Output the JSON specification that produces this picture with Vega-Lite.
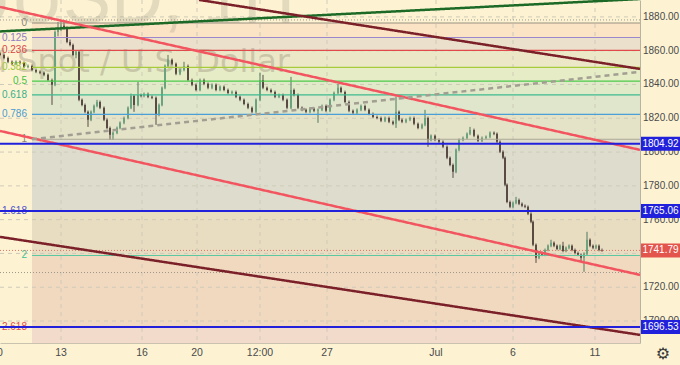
{
"$schema": "https://vega.github.io/schema/vega-lite/v6.json",
"width": 640, "height": 343,
"autosize": {"type": "none"},
"padding": {"left": 0, "top": 0, "right": 40, "bottom": 22},
"background": "#fdf3d3",
"config": {"view": {"stroke": null}, "text": {"font": "Liberation Sans"}},
"datasets": {
"candles": [
{"t":0,"o":1858.5,"h":1859.5,"l":1856.8,"c":1857.5},
{"t":4,"o":1857.5,"h":1858.3,"l":1854.9,"c":1855.7},
{"t":8,"o":1855.7,"h":1856.5,"l":1852.6,"c":1853.4},
{"t":12,"o":1853.4,"h":1854.2,"l":1851.4,"c":1852.2},
{"t":16,"o":1852.2,"h":1854.2,"l":1851.4,"c":1853.4},
{"t":20,"o":1853.4,"h":1854.2,"l":1852.0,"c":1852.8},
{"t":24,"o":1852.8,"h":1853.6,"l":1849.6,"c":1850.4},
{"t":28,"o":1850.4,"h":1851.8,"l":1849.6,"c":1851.0},
{"t":32,"o":1851.0,"h":1851.8,"l":1847.8,"c":1848.6},
{"t":36,"o":1848.6,"h":1849.4,"l":1846.7,"c":1847.5},
{"t":40,"o":1847.5,"h":1848.3,"l":1846.1,"c":1846.9},
{"t":44,"o":1846.9,"h":1847.7,"l":1844.9,"c":1845.7},
{"t":48,"o":1845.7,"h":1846.5,"l":1841.9,"c":1842.7},
{"t":52,"o":1842.7,"h":1843.5,"l":1827.9,"c":1839.8},
{"t":55,"o":1839.8,"h":1872.0,"l":1839.0,"c":1871.1},
{"t":58,"o":1871.1,"h":1877.0,"l":1868.5,"c":1872.3},
{"t":61,"o":1872.3,"h":1878.2,"l":1871.5,"c":1874.7},
{"t":64,"o":1874.7,"h":1878.2,"l":1872.7,"c":1873.5},
{"t":67,"o":1873.5,"h":1874.3,"l":1864.4,"c":1865.2},
{"t":70,"o":1865.2,"h":1866.6,"l":1862.6,"c":1863.4},
{"t":73,"o":1863.4,"h":1864.2,"l":1856.7,"c":1857.5},
{"t":76,"o":1857.5,"h":1860.1,"l":1855.5,"c":1859.3},
{"t":79,"o":1859.3,"h":1860.1,"l":1830.1,"c":1830.9},
{"t":82,"o":1830.9,"h":1831.7,"l":1827.1,"c":1827.9},
{"t":85,"o":1827.9,"h":1828.7,"l":1823.0,"c":1823.8},
{"t":88,"o":1823.8,"h":1824.6,"l":1814.9,"c":1819.1},
{"t":91,"o":1819.1,"h":1824.6,"l":1818.3,"c":1823.8},
{"t":94,"o":1823.8,"h":1828.1,"l":1823.0,"c":1827.3},
{"t":97,"o":1827.3,"h":1830.9,"l":1826.5,"c":1829.7},
{"t":100,"o":1829.7,"h":1830.5,"l":1825.4,"c":1826.2},
{"t":104,"o":1826.2,"h":1827.0,"l":1818.3,"c":1819.1},
{"t":107,"o":1819.1,"h":1819.9,"l":1813.5,"c":1814.3},
{"t":110,"o":1814.3,"h":1815.1,"l":1807.2,"c":1810.2},
{"t":113,"o":1810.2,"h":1812.2,"l":1807.2,"c":1811.4},
{"t":117,"o":1811.4,"h":1815.1,"l":1810.6,"c":1814.3},
{"t":120,"o":1814.3,"h":1818.1,"l":1813.5,"c":1817.3},
{"t":124,"o":1817.3,"h":1821.0,"l":1816.5,"c":1820.2},
{"t":128,"o":1820.2,"h":1827.0,"l":1819.4,"c":1826.2},
{"t":131,"o":1826.2,"h":1834.6,"l":1825.4,"c":1833.2},
{"t":134,"o":1833.2,"h":1834.0,"l":1823.8,"c":1827.9},
{"t":138,"o":1827.9,"h":1841.5,"l":1827.1,"c":1833.8},
{"t":141,"o":1833.8,"h":1834.6,"l":1832.4,"c":1833.2},
{"t":144,"o":1833.2,"h":1835.2,"l":1832.4,"c":1834.4},
{"t":148,"o":1834.4,"h":1835.2,"l":1831.9,"c":1832.7},
{"t":152,"o":1832.7,"h":1833.5,"l":1831.3,"c":1832.1},
{"t":156,"o":1832.1,"h":1832.9,"l":1816.1,"c":1822.0},
{"t":159,"o":1822.0,"h":1828.7,"l":1821.2,"c":1827.9},
{"t":162,"o":1827.9,"h":1838.8,"l":1827.1,"c":1838.0},
{"t":165,"o":1838.0,"h":1851.8,"l":1837.2,"c":1851.0},
{"t":168,"o":1851.0,"h":1857.5,"l":1850.2,"c":1854.6},
{"t":172,"o":1854.6,"h":1855.4,"l":1851.4,"c":1852.2},
{"t":176,"o":1852.2,"h":1853.0,"l":1845.5,"c":1846.3},
{"t":180,"o":1846.3,"h":1849.4,"l":1845.5,"c":1848.6},
{"t":184,"o":1848.6,"h":1853.4,"l":1847.8,"c":1851.0},
{"t":188,"o":1851.0,"h":1851.8,"l":1841.9,"c":1842.7},
{"t":192,"o":1842.7,"h":1843.5,"l":1839.0,"c":1839.8},
{"t":196,"o":1839.8,"h":1840.6,"l":1836.0,"c":1836.8},
{"t":200,"o":1836.8,"h":1843.5,"l":1836.0,"c":1842.7},
{"t":204,"o":1842.7,"h":1843.5,"l":1839.6,"c":1840.4},
{"t":208,"o":1840.4,"h":1841.2,"l":1837.2,"c":1838.0},
{"t":212,"o":1838.0,"h":1840.6,"l":1837.2,"c":1839.8},
{"t":216,"o":1839.8,"h":1840.6,"l":1836.0,"c":1836.8},
{"t":220,"o":1836.8,"h":1839.4,"l":1836.0,"c":1838.6},
{"t":224,"o":1838.6,"h":1839.4,"l":1836.0,"c":1836.8},
{"t":228,"o":1836.8,"h":1837.6,"l":1834.2,"c":1835.0},
{"t":232,"o":1835.0,"h":1836.4,"l":1834.2,"c":1835.6},
{"t":236,"o":1835.6,"h":1836.4,"l":1831.9,"c":1832.7},
{"t":240,"o":1832.7,"h":1833.5,"l":1830.1,"c":1830.9},
{"t":244,"o":1830.9,"h":1831.7,"l":1827.7,"c":1828.5},
{"t":248,"o":1828.5,"h":1829.3,"l":1825.4,"c":1826.2},
{"t":252,"o":1826.2,"h":1827.0,"l":1823.0,"c":1823.8},
{"t":256,"o":1823.8,"h":1831.7,"l":1823.0,"c":1830.9},
{"t":260,"o":1830.9,"h":1846.9,"l":1830.1,"c":1842.7},
{"t":263,"o":1842.7,"h":1845.7,"l":1837.2,"c":1838.0},
{"t":267,"o":1838.0,"h":1838.8,"l":1836.0,"c":1836.8},
{"t":271,"o":1836.8,"h":1837.6,"l":1834.8,"c":1835.6},
{"t":275,"o":1835.6,"h":1836.4,"l":1831.9,"c":1832.7},
{"t":279,"o":1832.7,"h":1834.6,"l":1831.9,"c":1833.8},
{"t":283,"o":1833.8,"h":1834.6,"l":1830.1,"c":1830.9},
{"t":287,"o":1830.9,"h":1831.7,"l":1825.4,"c":1826.2},
{"t":291,"o":1826.2,"h":1844.5,"l":1825.4,"c":1836.8},
{"t":294,"o":1836.8,"h":1837.6,"l":1833.0,"c":1833.8},
{"t":298,"o":1833.8,"h":1834.6,"l":1825.4,"c":1826.2},
{"t":302,"o":1826.2,"h":1827.0,"l":1824.2,"c":1825.0},
{"t":306,"o":1825.0,"h":1825.8,"l":1823.0,"c":1823.8},
{"t":310,"o":1823.8,"h":1826.4,"l":1823.0,"c":1825.6},
{"t":314,"o":1825.6,"h":1826.4,"l":1823.6,"c":1824.4},
{"t":318,"o":1824.4,"h":1825.8,"l":1817.3,"c":1825.0},
{"t":322,"o":1825.0,"h":1828.1,"l":1824.2,"c":1827.3},
{"t":326,"o":1827.3,"h":1828.1,"l":1823.6,"c":1824.4},
{"t":330,"o":1824.4,"h":1831.7,"l":1823.6,"c":1830.9},
{"t":334,"o":1830.9,"h":1835.8,"l":1830.1,"c":1835.0},
{"t":338,"o":1835.0,"h":1840.4,"l":1834.2,"c":1838.0},
{"t":341,"o":1838.0,"h":1838.8,"l":1834.8,"c":1835.6},
{"t":345,"o":1835.6,"h":1836.4,"l":1828.9,"c":1829.7},
{"t":349,"o":1829.7,"h":1830.5,"l":1823.6,"c":1824.4},
{"t":353,"o":1824.4,"h":1825.2,"l":1822.4,"c":1823.2},
{"t":357,"o":1823.2,"h":1825.8,"l":1822.4,"c":1825.0},
{"t":361,"o":1825.0,"h":1828.1,"l":1824.2,"c":1827.3},
{"t":365,"o":1827.3,"h":1828.1,"l":1824.2,"c":1825.0},
{"t":369,"o":1825.0,"h":1825.8,"l":1821.8,"c":1822.6},
{"t":373,"o":1822.6,"h":1823.4,"l":1820.0,"c":1820.8},
{"t":377,"o":1820.8,"h":1821.6,"l":1819.4,"c":1820.2},
{"t":381,"o":1820.2,"h":1821.0,"l":1817.7,"c":1818.5},
{"t":385,"o":1818.5,"h":1821.0,"l":1817.7,"c":1820.2},
{"t":389,"o":1820.2,"h":1821.0,"l":1817.1,"c":1817.9},
{"t":393,"o":1817.9,"h":1818.7,"l":1815.9,"c":1816.7},
{"t":396,"o":1816.7,"h":1832.7,"l":1814.3,"c":1823.8},
{"t":399,"o":1823.8,"h":1824.6,"l":1818.3,"c":1819.1},
{"t":402,"o":1819.1,"h":1819.9,"l":1817.1,"c":1817.9},
{"t":406,"o":1817.9,"h":1819.9,"l":1817.1,"c":1819.1},
{"t":410,"o":1819.1,"h":1821.0,"l":1818.3,"c":1820.2},
{"t":414,"o":1820.2,"h":1821.0,"l":1815.9,"c":1816.7},
{"t":418,"o":1816.7,"h":1817.5,"l":1813.5,"c":1814.3},
{"t":422,"o":1814.3,"h":1816.9,"l":1813.5,"c":1816.1},
{"t":425,"o":1816.1,"h":1825.0,"l":1815.3,"c":1820.2},
{"t":428,"o":1820.2,"h":1821.0,"l":1803.1,"c":1807.2},
{"t":431,"o":1807.2,"h":1810.4,"l":1806.4,"c":1809.6},
{"t":435,"o":1809.6,"h":1810.4,"l":1806.4,"c":1807.2},
{"t":439,"o":1807.2,"h":1808.0,"l":1805.3,"c":1806.1},
{"t":443,"o":1806.1,"h":1806.9,"l":1802.3,"c":1803.1},
{"t":447,"o":1803.1,"h":1803.9,"l":1795.8,"c":1796.6},
{"t":450,"o":1796.6,"h":1797.4,"l":1791.6,"c":1792.4},
{"t":453,"o":1792.4,"h":1793.2,"l":1784.7,"c":1788.3},
{"t":456,"o":1788.3,"h":1802.1,"l":1787.5,"c":1801.3},
{"t":459,"o":1801.3,"h":1808.0,"l":1800.5,"c":1807.2},
{"t":463,"o":1807.2,"h":1809.2,"l":1806.4,"c":1808.4},
{"t":467,"o":1808.4,"h":1811.6,"l":1807.6,"c":1810.8},
{"t":470,"o":1810.8,"h":1814.9,"l":1810.0,"c":1813.1},
{"t":474,"o":1813.1,"h":1813.9,"l":1808.8,"c":1809.6},
{"t":478,"o":1809.6,"h":1810.4,"l":1805.9,"c":1806.7},
{"t":482,"o":1806.7,"h":1809.2,"l":1805.9,"c":1808.4},
{"t":486,"o":1808.4,"h":1809.8,"l":1807.6,"c":1809.0},
{"t":490,"o":1809.0,"h":1812.2,"l":1808.2,"c":1811.4},
{"t":494,"o":1811.4,"h":1812.2,"l":1810.0,"c":1810.8},
{"t":497,"o":1810.8,"h":1811.6,"l":1805.3,"c":1806.1},
{"t":500,"o":1806.1,"h":1806.9,"l":1799.4,"c":1800.2},
{"t":503,"o":1800.2,"h":1801.0,"l":1795.8,"c":1796.6},
{"t":505,"o":1796.6,"h":1797.4,"l":1779.8,"c":1780.6},
{"t":507,"o":1780.6,"h":1781.4,"l":1769.7,"c":1770.5},
{"t":510,"o":1770.5,"h":1771.3,"l":1766.8,"c":1767.6},
{"t":513,"o":1767.6,"h":1770.7,"l":1766.8,"c":1769.9},
{"t":516,"o":1769.9,"h":1773.5,"l":1769.1,"c":1771.7},
{"t":519,"o":1771.7,"h":1772.5,"l":1768.6,"c":1769.4},
{"t":522,"o":1769.4,"h":1770.2,"l":1767.4,"c":1768.2},
{"t":525,"o":1768.2,"h":1769.0,"l":1766.8,"c":1767.6},
{"t":528,"o":1767.6,"h":1768.4,"l":1762.7,"c":1763.5},
{"t":531,"o":1763.5,"h":1764.3,"l":1757.9,"c":1758.7},
{"t":533,"o":1758.7,"h":1759.5,"l":1744.3,"c":1745.1},
{"t":536,"o":1745.1,"h":1745.9,"l":1734.4,"c":1737.4},
{"t":539,"o":1737.4,"h":1741.1,"l":1736.6,"c":1740.3},
{"t":542,"o":1740.3,"h":1741.1,"l":1738.4,"c":1739.2},
{"t":545,"o":1739.2,"h":1742.9,"l":1738.4,"c":1742.1},
{"t":548,"o":1742.1,"h":1745.3,"l":1741.3,"c":1744.5},
{"t":551,"o":1744.5,"h":1748.1,"l":1743.7,"c":1746.3},
{"t":554,"o":1746.3,"h":1747.1,"l":1743.7,"c":1744.5},
{"t":557,"o":1744.5,"h":1745.3,"l":1741.9,"c":1742.7},
{"t":560,"o":1742.7,"h":1745.3,"l":1741.9,"c":1744.5},
{"t":563,"o":1744.5,"h":1746.9,"l":1740.7,"c":1741.5},
{"t":566,"o":1741.5,"h":1744.1,"l":1740.7,"c":1743.3},
{"t":569,"o":1743.3,"h":1745.3,"l":1742.5,"c":1744.5},
{"t":572,"o":1744.5,"h":1745.3,"l":1741.3,"c":1742.1},
{"t":575,"o":1742.1,"h":1742.9,"l":1739.5,"c":1740.3},
{"t":578,"o":1740.3,"h":1741.1,"l":1738.4,"c":1739.2},
{"t":581,"o":1739.2,"h":1740.0,"l":1735.0,"c":1737.4},
{"t":584,"o":1737.4,"h":1740.6,"l":1729.1,"c":1739.8},
{"t":587,"o":1739.8,"h":1752.8,"l":1739.0,"c":1748.1},
{"t":590,"o":1748.1,"h":1748.9,"l":1743.7,"c":1744.5},
{"t":593,"o":1744.5,"h":1745.3,"l":1742.5,"c":1743.3},
{"t":596,"o":1743.3,"h":1745.3,"l":1742.5,"c":1744.5},
{"t":599,"o":1744.5,"h":1745.3,"l":1741.3,"c":1742.1},
{"t":602,"o":1742.1,"h":1742.9,"l":1741.0,"c":1741.8}
],
"bands": [
{"b":"b0","y1":1876.4,"y2":1867.8},
{"b":"b1","y1":1867.8,"y2":1860.2},
{"b":"b2","y1":1860.2,"y2":1850.1},
{"b":"b3","y1":1850.1,"y2":1842.0},
{"b":"b4","y1":1842.0,"y2":1833.9},
{"b":"b5","y1":1833.9,"y2":1822.3},
{"b":"b6","y1":1822.3,"y2":1807.6},
{"b":"b7","y1":1807.6,"y2":1765.1},
{"b":"b8","y1":1765.1,"y2":1738.8},
{"b":"b9","y1":1738.8,"y2":1696.3},
{"b":"b10","y1":1696.3,"y2":1687}
],
"fib": [
{"lab":"0","p":1876.4},
{"lab":"0.125","p":1867.8},
{"lab":"0.236","p":1860.2},
{"lab":"0.382","p":1850.1},
{"lab":"0.5","p":1842.0},
{"lab":"0.618","p":1833.9},
{"lab":"0.786","p":1822.3},
{"lab":"1","p":1807.6},
{"lab":"1.618","p":1765.1},
{"lab":"2","p":1738.8},
{"lab":"2.618","p":1696.3}
],
"trend": [
{"name":"green","t":0,"p":1871.4},{"name":"green","t":640,"p":1890.6},
{"name":"maroonUp","t":199,"p":1890.06},{"name":"maroonUp","t":640,"p":1849.2},
{"name":"maroonLow","t":0,"p":1749.8},{"name":"maroonLow","t":640,"p":1691.8},
{"name":"redUp","t":0,"p":1885.9},{"name":"redUp","t":640,"p":1801.3},
{"name":"redLow","t":0,"p":1812.5},{"name":"redLow","t":640,"p":1727.3},
{"name":"grayDash","t":32,"p":1807.6},{"name":"grayDash","t":640,"p":1847.5}
],
"hlines": [
{"name":"hi","p":1878.2},{"name":"last","p":1741.79},{"name":"lo","p":1728.7}
],
"blue": [{"p":1804.92},{"p":1765.06},{"p":1696.53}],
"tags": [
{"lab":"1804.92","p":1804.92,"kind":"level"},
{"lab":"1765.06","p":1765.06,"kind":"level"},
{"lab":"1741.79","p":1741.79,"kind":"last"},
{"lab":"1696.53","p":1696.53,"kind":"level"}
],
"xgrid": [{"t":61},{"t":142},{"t":197},{"t":260},{"t":327},{"t":436},{"t":513},{"t":595}],
"xlabels": [{"t":-3,"lab":"10"},{"t":61,"lab":"13"},{"t":142,"lab":"16"},{"t":197,"lab":"20"},{"t":260,"lab":"12:00"},{"t":327,"lab":"27"},{"t":436,"lab":"Jul"},{"t":513,"lab":"6"},{"t":595,"lab":"11"}],
"ygrid": [{"p":1700},{"p":1720},{"p":1740},{"p":1760},{"p":1780},{"p":1800},{"p":1820},{"p":1840},{"p":1860},{"p":1880}],
"wm": [
{"txt":"XAUUSD, 1H","t":295,"p":1876.5,"kind":"big"},
{"txt":"Gold Spot / U.S. Dollar","t":290,"p":1847.5,"kind":"small"}
]
},
"layer": [
{"data":{"name":"bands"},"mark":{"type":"rect"},
 "encoding":{
  "x":{"datum":32,"type":"quantitative","scale":{"domain":[0,640],"nice":false,"zero":false,"padding":0},
   "axis":{"title":null,"labels":false,"ticks":false,"grid":false,"domainColor":"#c9c2ae"}},
  "x2":{"datum":640},
  "y":{"field":"y1","type":"quantitative","scale":{"domain":[1687,1890],"nice":false,"zero":false,"padding":0},
   "axis":{"title":null,"orient":"right","labels":false,"ticks":false,"grid":false,"domainColor":"#b9b2a0"}},
  "y2":{"field":"y2"},
  "color":{"field":"b","type":"nominal","legend":null,
   "scale":{"domain":["b0","b1","b2","b3","b4","b5","b6","b7","b8","b9","b10"],
    "range":["#fbe3c5","#ebe0cc","#ece8c7","#e6ecc6","#e0eac8","#dfe6cb","#e4e3c8","#deddcd","#e8dcc1","#f1d9c0","#f3dbcc"]}}}},
{"data":{"name":"xgrid"},"mark":{"type":"rule","strokeDash":[4,4],"color":"#cfcab9","strokeWidth":1},
 "encoding":{"x":{"field":"t","type":"quantitative","axis":{"title":null}},"y":{"datum":1890,"type":"quantitative","axis":{"title":null}},"y2":{"datum":1687}}},
{"data":{"name":"ygrid"},"mark":{"type":"rule","strokeDash":[4,4],"color":"#cfcab9","strokeWidth":1},
 "encoding":{"x":{"datum":0,"type":"quantitative","axis":{"title":null}},"x2":{"datum":640},"y":{"field":"p","type":"quantitative","axis":{"title":null}}}},
{"data":{"name":"wm"},"transform":[{"filter":"datum.kind=='big'"}],
 "mark":{"type":"text","align":"right","baseline":"alphabetic","fontSize":72,"font":"Liberation Sans","color":"#a8a08a","opacity":0.3},
 "encoding":{"x":{"field":"t","type":"quantitative","axis":{"title":null}},"y":{"field":"p","type":"quantitative","axis":{"title":null}},"text":{"field":"txt"}}},
{"data":{"name":"wm"},"transform":[{"filter":"datum.kind=='small'"}],
 "mark":{"type":"text","align":"right","baseline":"alphabetic","fontSize":32,"font":"DejaVu Sans","color":"#9a927c","opacity":0.4},
 "encoding":{"x":{"field":"t","type":"quantitative","axis":{"title":null}},"y":{"field":"p","type":"quantitative","axis":{"title":null}},"text":{"field":"txt"}}},
{"data":{"name":"candles"},"mark":{"type":"rule","strokeWidth":1},
 "encoding":{"x":{"field":"t","type":"quantitative","axis":{"title":null}},"y":{"field":"l","type":"quantitative","axis":{"title":null}},"y2":{"field":"h"},
  "color":{"condition":{"test":"datum.c >= datum.o","value":"#4f7a5c"},"value":"#5a4a44"}}},
{"data":{"name":"candles"},"mark":{"type":"bar","width":2},
 "encoding":{"x":{"field":"t","type":"quantitative","axis":{"title":null}},"y":{"field":"o","type":"quantitative","axis":{"title":null}},"y2":{"field":"c"},
  "color":{"condition":{"test":"datum.c >= datum.o","value":"#6aa37e"},"value":"#5a4a44"}}},
{"data":{"name":"fib"},"mark":{"type":"rule","strokeWidth":1.2},
 "encoding":{"x":{"datum":32,"type":"quantitative","axis":{"title":null}},"x2":{"datum":640},"y":{"field":"p","type":"quantitative","axis":{"title":null}},
  "color":{"field":"lab","type":"nominal","legend":null,
   "scale":{"domain":["0","0.125","0.236","0.382","0.5","0.618","0.786","1","1.618","2","2.618"],
    "range":["#9a9282","#9c86cc","#e04a4a","#a8cb3c","#4cc94c","#3dba8f","#4aa0d6","#aaa694","#4f55c9","#5cc7a0","#e05252"]}}}},
{"data":{"name":"fib"},"mark":{"type":"text","align":"right","baseline":"middle","fontSize":10,"font":"Liberation Sans"},
 "encoding":{"x":{"datum":27,"type":"quantitative","axis":{"title":null}},"y":{"field":"p","type":"quantitative","axis":{"title":null}},"text":{"field":"lab"},
  "color":{"field":"lab","type":"nominal","legend":null,
   "scale":{"domain":["0","0.125","0.236","0.382","0.5","0.618","0.786","1","1.618","2","2.618"],
    "range":["#8a8478","#8f7bc2","#d94848","#a2c63a","#44c044","#38b08a","#4a9bd0","#8a8678","#4f55c9","#3fbf95","#e04e4e"]}}}},
{"data":{"name":"hlines"},"mark":{"type":"rule","strokeDash":[1,2],"strokeWidth":1},
 "encoding":{"x":{"datum":0,"type":"quantitative","axis":{"title":null}},"x2":{"datum":640},"y":{"field":"p","type":"quantitative","axis":{"title":null}},
  "color":{"field":"name","type":"nominal","legend":null,"scale":{"domain":["hi","last","lo"],"range":["#9c968a","#e07468","#9c968a"]}}}},
{"data":{"name":"trend"},"mark":{"type":"line","strokeCap":"butt"},
 "encoding":{"x":{"field":"t","type":"quantitative","axis":{"title":null}},"y":{"field":"p","type":"quantitative","axis":{"title":null}},
  "color":{"field":"name","type":"nominal","legend":null,"scale":{"domain":["green","maroonUp","maroonLow","redUp","redLow","grayDash"],"range":["#1d6a27","#7b2028","#7b2028","#f2555f","#f2555f","#a29e92"]}},
  "strokeWidth":{"field":"name","type":"nominal","legend":null,"scale":{"domain":["green","maroonUp","maroonLow","redUp","redLow","grayDash"],"range":[2.5,2.5,2.5,2,2,1]}},
  "strokeDash":{"field":"name","type":"nominal","legend":null,"scale":{"domain":["green","maroonUp","maroonLow","redUp","redLow","grayDash"],"range":[[1,0],[1,0],[1,0],[1,0],[1,0],[5,4]]}}}},
{"data":{"name":"blue"},"mark":{"type":"rule","color":"#2121dc","strokeWidth":2},
 "encoding":{"x":{"datum":0,"type":"quantitative","axis":{"title":null}},"x2":{"datum":640},"y":{"field":"p","type":"quantitative","axis":{"title":null}}}},
{"data":{"name":"ygrid"},"mark":{"type":"text","align":"left","baseline":"middle","fontSize":10,"font":"Liberation Sans","color":"#4a4a4a"},
 "encoding":{"x":{"datum":643,"type":"quantitative","axis":{"title":null}},"y":{"field":"p","type":"quantitative","axis":{"title":null}},"text":{"field":"p","type":"quantitative","format":".2f"}}},
{"data":{"name":"xlabels"},"mark":{"type":"text","align":"center","baseline":"middle","fontSize":10.5,"font":"Liberation Sans","color":"#4a4a4a"},
 "encoding":{"x":{"field":"t","type":"quantitative","axis":{"title":null}},"y":{"datum":1681.2,"type":"quantitative","axis":{"title":null}},"text":{"field":"lab"}}},
{"data":{"name":"tags"},"mark":{"type":"rule","strokeWidth":14,"strokeCap":"butt"},
 "encoding":{"x":{"datum":641,"type":"quantitative","axis":{"title":null}},"x2":{"datum":680},"y":{"field":"p","type":"quantitative","axis":{"title":null}},
  "color":{"field":"kind","type":"nominal","legend":null,"scale":{"domain":["level","last"],"range":["#2121dc","#e3554c"]}}}},
{"data":{"name":"tags"},"mark":{"type":"text","align":"center","baseline":"middle","fontSize":10,"font":"Liberation Sans","color":"#ffffff"},
 "encoding":{"x":{"datum":660.5,"type":"quantitative","axis":{"title":null}},"y":{"field":"p","type":"quantitative","axis":{"title":null}},"text":{"field":"lab"}}},
{"data":{"values":[{"icon":"⚙"}]},"mark":{"type":"text","align":"center","baseline":"middle","fontSize":16,"font":"DejaVu Sans","color":"#3a3a3a"},
 "encoding":{"x":{"datum":663,"type":"quantitative","axis":{"title":null}},"y":{"datum":1680.6,"type":"quantitative","axis":{"title":null}},"text":{"field":"icon"}}}
],
"resolve": {"scale": {"color": "independent", "strokeWidth": "independent", "strokeDash": "independent"}}
}
